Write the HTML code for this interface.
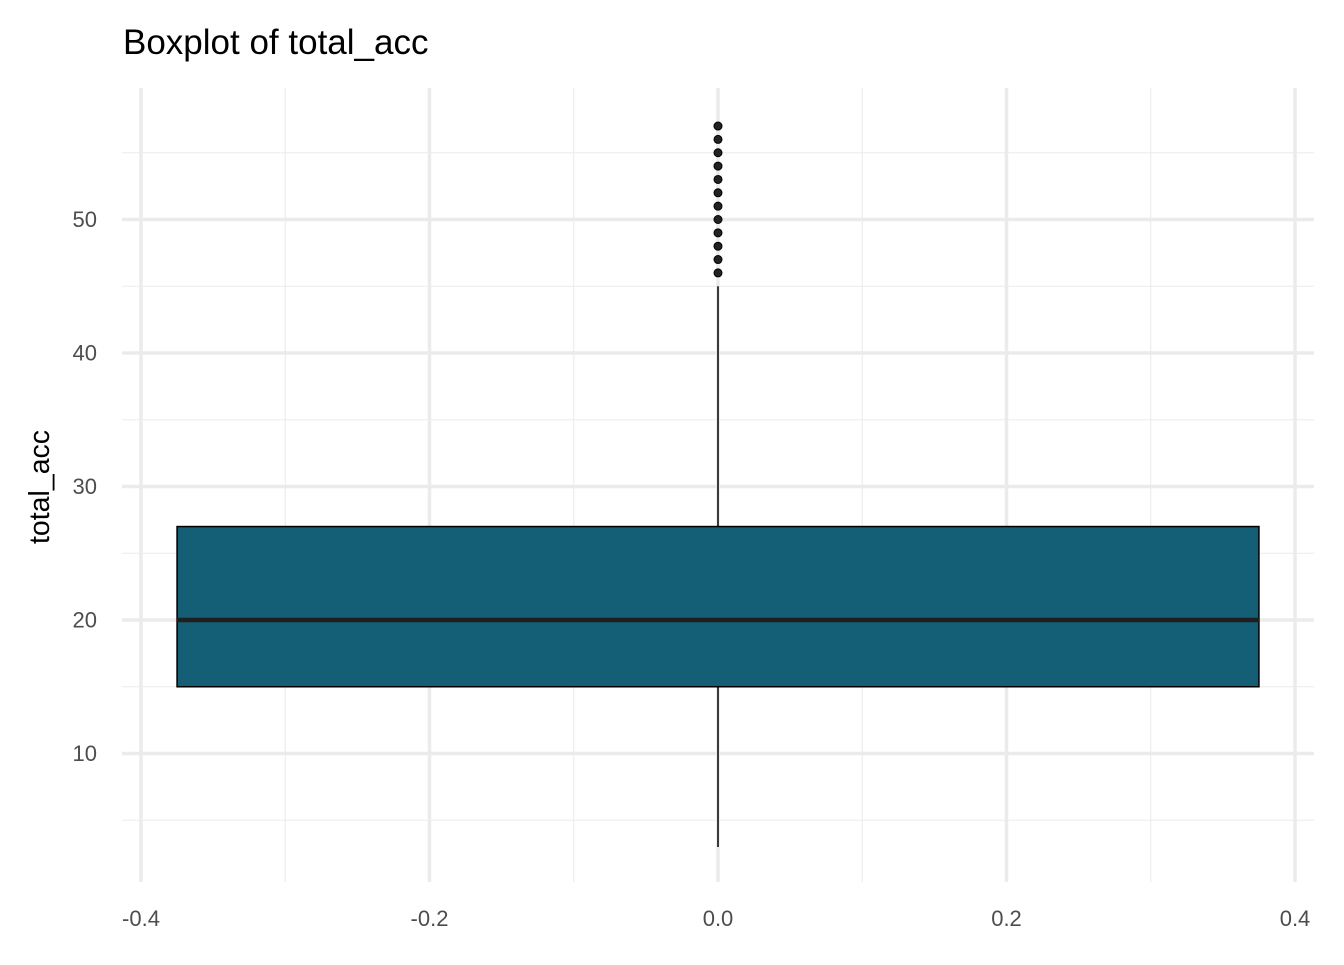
<!DOCTYPE html>
<html><head><meta charset="utf-8"><style>
html,body{margin:0;padding:0;background:#fff;}
svg text{font-family:"Liberation Sans",Arial,sans-serif;}
</style></head><body>
<svg id="chart" width="1344" height="960" xmlns="http://www.w3.org/2000/svg">
<rect width="1344" height="960" fill="#fff"/>
<text x="123" y="54" style="font-size:35px" fill="#000">Boxplot of total_acc</text>
<text transform="translate(49,487) rotate(-90)" text-anchor="middle" style="font-size:28.5px" fill="#000">total_acc</text>
<g id="grid"></g><g id="marks"></g><g id="labels"></g>
</svg>
<script>
const xTicks=[-0.4,-0.2,0.0,0.2,0.4];
const xTickLabels=["-0.4","-0.2","0.0","0.2","0.4"];
const xMinor=[-0.3,-0.1,0.1,0.3];
const yTicks=[10,20,30,40,50];
const yTickLabels=["10","20","30","40","50"];
const yMinor=[5,15,25,35,45,55];
const boxStats=[3,15,20,27,45]; // min, q1, median, q3, max
const boxHalfWidth=[0.375];
const outliers=[46,47,48,49,50,51,52,53,54,55,56,57];

const X0=122,X1=1314,Y0=88,Y1=882;
const sx=v=>718+v*1442.5;
const sy=v=>620-(v-20)*13.35;
const NS="http://www.w3.org/2000/svg";
function mk(p,t,a){const e=document.createElementNS(NS,t);for(const k in a)e.setAttribute(k,a[k]);p.appendChild(e);return e;}
const g=document.getElementById('grid'),m=document.getElementById('marks'),lb=document.getElementById('labels');
yMinor.forEach(v=>{const l=mk(g,'line',{x1:X0,x2:X1,y1:sy(v),y2:sy(v),stroke:'#ebebeb','stroke-width':1.1});

});
xMinor.forEach(v=>{const l=mk(g,'line',{x1:sx(v),x2:sx(v),y1:Y0,y2:Y1,stroke:'#ebebeb','stroke-width':1.1});

});
yTicks.forEach((v,i)=>{const l=mk(g,'line',{x1:X0,x2:X1,y1:sy(v),y2:sy(v),stroke:'#ebebeb','stroke-width':3.5});


const t=mk(lb,'text',{x:97,y:sy(v)+7.5,'text-anchor':'end',style:'font-size:22px',fill:'#4d4d4d'});t.textContent=yTickLabels[i];

});
xTicks.forEach((v,i)=>{const l=mk(g,'line',{x1:sx(v),x2:sx(v),y1:Y0,y2:Y1,stroke:'#ebebeb','stroke-width':3.5});


const t=mk(lb,'text',{x:sx(v),y:926,'text-anchor':'middle',style:'font-size:22px',fill:'#4d4d4d'});t.textContent=xTickLabels[i];

});
const [mn,q1,md,q3,mx]=boxStats;const hw=boxHalfWidth[0];
let e=mk(m,'line',{x1:sx(0),x2:sx(0),y1:sy(q3),y2:sy(mx),stroke:'#000','stroke-width':1.5});


e=mk(m,'line',{x1:sx(0),x2:sx(0),y1:sy(q1),y2:sy(mn),stroke:'#000','stroke-width':1.5});


e=mk(m,'rect',{x:sx(-hw),y:sy(q3),width:sx(hw)-sx(-hw),height:sy(q1)-sy(q3),fill:'#145f76',stroke:'#000','stroke-width':1.5});


e=mk(m,'line',{x1:sx(-hw),x2:sx(hw),y1:sy(md),y2:sy(md),stroke:'#1f1f1f','stroke-width':4.5});


outliers.forEach(v=>{const c=mk(m,'circle',{cx:sx(0),cy:sy(v),r:4,fill:'#222',stroke:'#000','stroke-width':1});

});
</script>
</body></html>
